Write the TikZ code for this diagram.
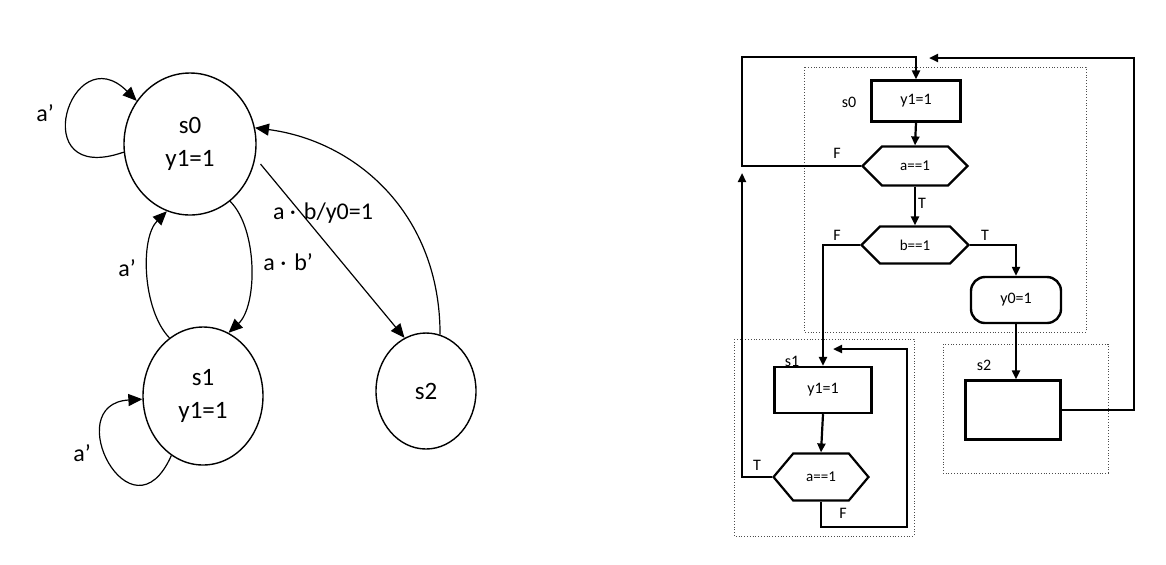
\documentclass[tikz,border=0pt]{standalone}
\usepackage{fontspec}
\setmainfont{Carlito}
\usetikzlibrary{positioning,arrows.meta,shapes.geometric,shapes.symbols}

\begin{document}
\begin{tikzpicture}[x=0.5pt,y=-0.5pt,
    state/.style={draw, ellipse, line width=0.7pt, align=center, inner sep=0pt,
      font=\fontsize{12.5}{16.5}\selectfont},
    trans/.style={-{Triangle[length=7pt,width=6pt]}, line width=0.6pt},
    lbl/.style={font=\fontsize{12}{14}\selectfont, inner sep=0pt},
    act/.style={draw, line width=1.2pt, inner sep=0pt, font=\fontsize{8}{10}\selectfont},
    cond/.style={draw, signal, signal to=east and west, signal pointer angle=90,
      line width=1.1pt, inner sep=0pt, font=\fontsize{7.5}{9}\selectfont},
    flow/.style={-{Triangle[length=4.5pt,width=4pt]}, line width=1.1pt},
    frame/.style={draw=black!70, densely dotted, line width=0.4pt},
    tag/.style={font=\fontsize{8}{10}\selectfont, inner sep=0pt}
  ]
    \useasboundingbox (0,0) rectangle (1166,564);

    % state diagram
    \node[state, minimum width=66pt, minimum height=71pt] (s0) at (190,144) {s0\\y1=1};
    \node[state, minimum width=60pt, minimum height=69pt] (s1) at (203,396) {s1\\y1=1};
    \node[state, minimum width=50pt, minimum height=58pt] (s2) at (426,391) {s2};

    \draw[trans] (s0.187) .. controls +(-100,35) and +(-66,-66) .. (s0.141);
    \node[lbl] at (45,113) {a’};
    \draw[trans] (s0.-55) .. controls +(28,28) and +(29,-27) .. (s1.68);
    \node[lbl, anchor=west] at (263,262) {a ·\,\,b’};
    \draw[trans] (s1.120) .. controls +(-27,-28) and +(-27,27) .. (s0.251);
    \node[lbl] at (127,268) {a’};
    \draw[trans, shorten <=4pt] (s0.-12) -- (s2.112);
    \node[lbl] at (323,213) {a ·\,\,b/y0=1};
    \draw[trans] (s2.76) .. controls +(0,-122) and +(100,13) .. (s0.14);
    \draw[trans] (s1.242) .. controls +(-40,90) and +(-84,5) .. (s1.183);
    \node[lbl] at (82,453) {a’};

    % flow chart
    \draw[frame] (804,67) rectangle (1086,332);
    \draw[frame] (734,339) rectangle (914,536);
    \draw[frame] (943,344) rectangle (1108,473);

    \node[act, minimum width=44.5pt, minimum height=20.5pt] (r0) at (916,101) {y1=1};
    \node[tag] at (849,102) {s0};
    \node[cond, minimum width=52.5pt, minimum height=19.5pt] (c0a) at (915,166) {a==1};
    \node[cond, minimum width=53.5pt, minimum height=18.5pt] (c0b) at (915,245) {b==1};
    \node[act, rounded corners=7pt, minimum width=45pt, minimum height=23pt] (y0) at (1016,300) {y0=1};
    \node[act, minimum width=48.5pt, minimum height=23pt] (r1) at (823,390) {y1=1};
    \node[tag] at (792,361) {s1};
    \node[cond, signal pointer angle=100, minimum width=47.5pt, minimum height=23.5pt] (c1a) at (821,477) {a==1};
    \node[act, minimum width=47.5pt, minimum height=29.5pt] (r2) at (1013,410) {};
    \node[tag] at (984,365) {s2};

    \coordinate (topL) at (742,57);
    \coordinate (tipL) at (742,173);
    \coordinate (topR) at (1134,58);
    \coordinate (tipR) at (929,58);
    \coordinate (botS1) at (907,527);
    \coordinate (tipS1) at (833,349);

    \draw[flow] (r0.south) -- (c0a.north);
    \draw[flow] (c0a.west) -| (topL) -| (r0.north);
    \node[tag] at (837,153) {F};
    \draw[flow] (c0a.south) -- (c0b.north);
    \node[tag] at (922,203) {T};
    \draw[flow] (c0b.west) -| (r1.north);
    \node[tag] at (837,235) {F};
    \draw[flow] (c0b.east) -| (y0.north);
    \node[tag] at (985,235) {T};
    \draw[flow] (y0.south) -- (y0.south |- r2.north);
    \draw[flow] (r2.east) -| (topR) -- (tipR);
    \draw[flow] (r1.south) -- (c1a.north);
    \draw[flow] (c1a.west) -| (tipL);
    \node[tag] at (757,465) {T};
    \draw[flow] (c1a.south) |- (botS1) |- (tipS1);
    \node[tag] at (843,513) {F};
\end{tikzpicture}
\end{document}
